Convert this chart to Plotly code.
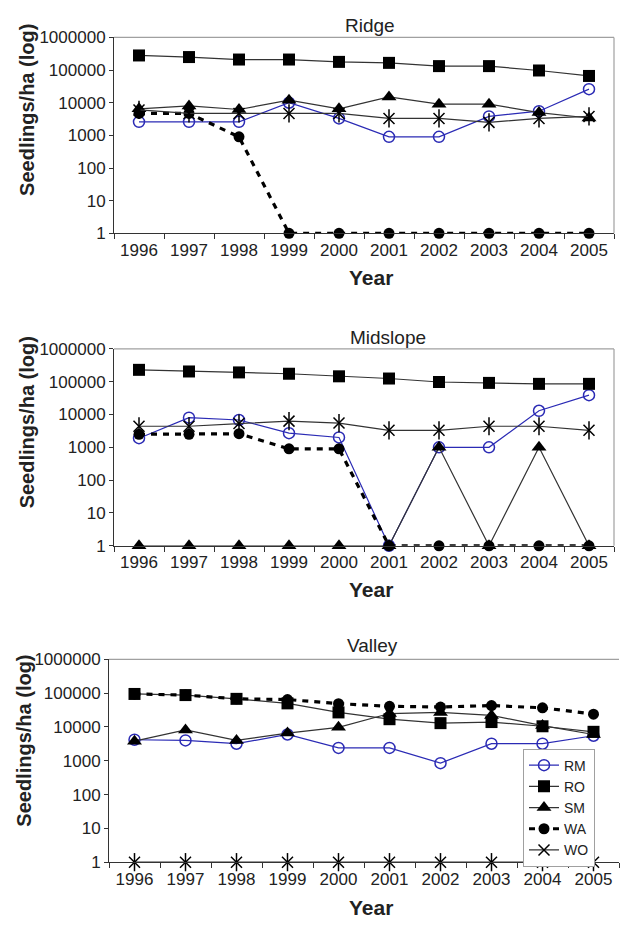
import plotly.graph_objects as go

# ---- data: seedlings per hectare by year, species and slope position ----
years = ["1996", "1997", "1998", "1999", "2000", "2001", "2002", "2003", "2004", "2005"]
species = ["RM", "RO", "SM", "WA", "WO"]

ridge_rm = [2600, 2600, 2600, 10000, 3300, 900, 900, 3800, 5500, 26000]
ridge_ro = [280000, 250000, 210000, 210000, 178000, 166000, 132000, 132000, 97000, 66000]
ridge_sm = [6500, 8000, 6200, 12000, 6500, 15000, 9000, 9000, 5000, 3400]
ridge_wa = [4700, 4700, 900, 1, 1, 1, 1, 1, 1, 1]
ridge_wo = [6000, 4700, 4700, 4700, 4700, 3300, 3300, 2500, 3300, 3800]

mid_rm = [1900, 8000, 6800, 2700, 2000, 1, 1000, 1000, 13000, 39000]
mid_ro = [230000, 205000, 192000, 175000, 146000, 125000, 98000, 92000, 86000, 86000]
mid_sm = [1, 1, 1, 1, 1, 1, 1000, 1, 1000, 1]
mid_wa = [2500, 2500, 2600, 900, 900, 1, 1, 1, 1, 1]
mid_wo = [4400, 4400, 5300, 6300, 5500, 3300, 3300, 4400, 4400, 3300]

valley_rm = [4200, 4000, 3200, 6000, 2400, 2400, 850, 3200, 3200, 5500]
valley_ro = [95000, 88000, 68000, 50000, 27000, 17000, 13000, 14000, 10500, 7200]
valley_sm = [3800, 8200, 4000, 6600, 9800, 25000, 27000, 22000, 11000, 6000]
valley_wa = [95000, 88000, 68000, 65000, 49000, 41000, 39000, 43000, 37000, 24000]
valley_wo = [1, 1, 1, 1, 1, 1, 1, 1, 1, 1]

y_tick_vals = [1, 10, 100, 1000, 10000, 100000, 1000000]
y_tick_text = ["1", "10", "100", "1000", "10000", "100000", "1000000"]

# ---- page geometry (pixels) ----
W, H = 630, 928
FONT = "Liberation Sans, Arial, sans-serif"
INK = "#222222"
AXIS = "#333333"
FRAME = "#a0a0a0"
BLUE = "#2b2bb5"

panels = [
    dict(title="Ridge", data=[ridge_rm, ridge_ro, ridge_sm, ridge_wa, ridge_wo],
         box=(114, 614, 29, 229), frame_right=True,
         title_xy=(370, 17), year_xy=(371, 274), ytitle_xy=(27, 103)),
    dict(title="Midslope", data=[mid_rm, mid_ro, mid_sm, mid_wa, mid_wo],
         box=(114, 614, 347, 548), frame_right=True,
         title_xy=(388, 335), year_xy=(371, 593), ytitle_xy=(27, 422)),
    dict(title="Valley", data=[valley_rm, valley_ro, valley_sm, valley_wa, valley_wo],
         box=(109, 619, 664, 871), frame_right=False,
         title_xy=(372, 650), year_xy=(371, 917), ytitle_xy=(24, 747)),
]

styles = {
    "RM": dict(line=dict(color=BLUE, width=1.2),
               marker=dict(symbol="circle-open", size=11, color=BLUE, line=dict(width=1.5, color=BLUE))),
    "RO": dict(line=dict(color=AXIS, width=1.2),
               marker=dict(symbol="square", size=12, color="black")),
    "SM": dict(line=dict(color=AXIS, width=1.2),
               marker=dict(symbol="triangle-up", size=13, color="black")),
    "WA": dict(line=dict(color="black", width=3.2, dash="6px,6px"),
               marker=dict(symbol="circle", size=11, color="black")),
    "WO": dict(line=dict(color=AXIS, width=1.2),
               marker=dict(symbol="x-thin-open", size=11, color="black", line=dict(width=1.5, color="black"))),
}

fig = go.Figure()


def px_x(v):
    return v / W


def px_y(v):
    return 1 - v / H


annotations = []
shapes = []

for i, p in enumerate(panels):
    n = "" if i == 0 else str(i + 1)
    xref, yref = "x" + n, "y" + n
    last = i == len(panels) - 1
    for name, values in zip(species, p["data"]):
        st = styles[name]
        fig.add_trace(go.Scatter(
            x=years, y=values, name=name, mode="lines+markers",
            line=st["line"], marker=st["marker"], cliponaxis=False,
            xaxis=xref, yaxis=yref, legendgroup=name, showlegend=last,
        ))
        if name == "WO":
            # vertical stroke turns the X marker into a six-armed star
            fig.add_trace(go.Scatter(
                x=years, y=values, name=name, mode="markers",
                marker=dict(symbol="line-ns-open", size=13, color="black",
                            line=dict(width=1.5, color="black")),
                cliponaxis=False, xaxis=xref, yaxis=yref,
                legendgroup=name, showlegend=False, hoverinfo="skip",
            ))

    x0, x1, yt, yb = p["box"]
    fig.layout["xaxis" + n] = dict(
        domain=[px_x(x0), px_x(x1)], anchor=yref, type="category",
        categoryorder="array", categoryarray=years, range=[-0.5, len(years) - 0.5],
        tickson="boundaries", ticks="outside", ticklen=5, tickcolor=AXIS, tickwidth=1,
        ticklabelstandoff=1, showgrid=False, zeroline=False,
        showline=True, linecolor=AXIS, linewidth=1,
        tickfont=dict(family=FONT, size=17, color=INK),
    )
    fig.layout["yaxis" + n] = dict(
        domain=[px_y(yb), px_y(yt)], anchor=xref, type="log", range=[0, 6],
        tickmode="array", tickvals=y_tick_vals, ticktext=y_tick_text,
        ticks="outside", ticklen=4, tickcolor=AXIS, tickwidth=1,
        showgrid=False, zeroline=False,
        showline=True, linecolor=AXIS, linewidth=1,
        tickfont=dict(family=FONT, size=17, color=INK),
    )

    # light plot-area frame
    shapes.append(dict(type="line", xref=xref + " domain", yref=yref + " domain",
                       x0=0, x1=1, y0=1, y1=1, line=dict(color=FRAME, width=1.2)))
    if p["frame_right"]:
        shapes.append(dict(type="line", xref=xref + " domain", yref=yref + " domain",
                           x0=1, x1=1, y0=0, y1=1, line=dict(color=FRAME, width=1.2)))

    tx, ty = p["title_xy"]
    annotations.append(dict(text=p["title"], x=px_x(tx), y=px_y(ty), xref="paper", yref="paper",
                            showarrow=False, xanchor="center", yanchor="middle",
                            font=dict(family=FONT, size=19, color=INK)))
    yx, yy = p["year_xy"]
    annotations.append(dict(text="<b>Year</b>", x=px_x(yx), y=px_y(yy), xref="paper", yref="paper",
                            showarrow=False, xanchor="center", yanchor="middle",
                            font=dict(family=FONT, size=21, color=INK)))
    ax, ay = p["ytitle_xy"]
    annotations.append(dict(text="<b>Seedlings/ha (log)</b>", x=px_x(ax), y=px_y(ay),
                            xref="paper", yref="paper", textangle=-90,
                            showarrow=False, xanchor="center", yanchor="middle",
                            font=dict(family=FONT, size=20, color=INK)))

fig.update_layout(
    width=W, height=H, margin=dict(l=0, r=0, t=0, b=0),
    paper_bgcolor="white", plot_bgcolor="white",
    font=dict(family=FONT, color=INK),
    annotations=annotations, shapes=shapes,
    legend=dict(x=px_x(523), y=px_y(755), xanchor="left", yanchor="top",
                bgcolor="white", bordercolor=FRAME, borderwidth=1,
                font=dict(family=FONT, size=14, color=INK),
                tracegroupgap=0, itemwidth=30),
    showlegend=True,
)

fig.write_html("out.html")
